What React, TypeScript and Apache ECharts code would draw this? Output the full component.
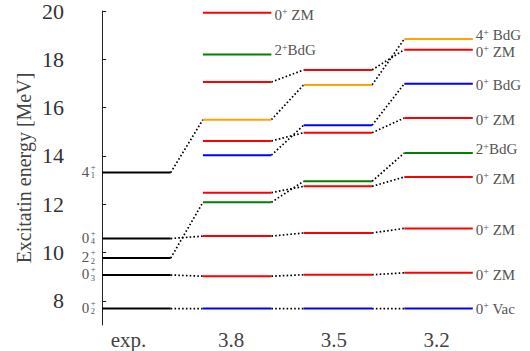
import { useEffect, useRef } from "react";
import * as echarts from "echarts";

const SERIF = "Liberation Serif";

// Columns of the level scheme: experiment and three model parameter values
const columns = ["exp.", "3.8", "3.5", "3.2"];
// Where the column captions sit on the x scale
const columnLabelAt = [0.26, 1.28, 2.3, 3.32];

// Each state followed across the columns, in MeV (null where it is absent)
const stateTracks: (number | null)[][] = [
  [7.68, 7.68, 7.68, 7.68],
  [9.07, 9.02, 9.08, 9.16],
  [10.58, 10.68, 10.81, 11.0],
  [9.77, 12.08, 12.95, 14.12],
  [null, 12.48, 12.74, 13.13],
  [null, 14.03, 15.27, 16.99],
  [null, 14.62, 14.96, 15.57],
  [13.31, 15.5, 16.94, 18.84],
  [null, 17.06, 17.56, 18.4],
  [null, 18.2, null, null],
  [null, 19.93, null, null],
];
// Model character of each track
const stateKinds = ["Vac", "ZM", "ZM", "BdG2", "ZM", "BdG0", "ZM", "BdG4", "ZM", "BdG2", "ZM"];

// Experimental level labels J^pi_n
const expTrack = [0, 1, 2, 3, 7];
const expSpin = ["0", "0", "0", "2", "4"];
const expIndex = ["2", "3", "4", "2", "1"];

const yTicks = [8, 10, 12, 14, 16, 18, 20];

const LEVEL_WIDTH = 0.68;

const kindStyle: Record<string, { color: string; spin: string; name: string; dy: number }> = {
  Vac: { color: "#0000ff", spin: "0", name: "Vac", dy: 0 },
  ZM: { color: "#ff0000", spin: "0", name: "ZM", dy: 2 },
  BdG0: { color: "#0000ff", spin: "0", name: "BdG", dy: 1 },
  BdG2: { color: "#008000", spin: "2", name: "BdG", dy: -4 },
  BdG4: { color: "#ffa500", spin: "4", name: "BdG", dy: -4 },
};

export default function App() {
  const ref = useRef<HTMLDivElement>(null);

  useEffect(() => {
    document.body.style.margin = "0";
    if (!ref.current) return;
    const chart = echarts.init(ref.current, undefined, { renderer: "svg" });

    // Level bars
    const levelData: number[][] = [];
    const levelColor: string[] = [];
    // Dotted links between neighbouring columns
    const linkData: number[][] = [];
    // Labels at the right end of each track
    const tagData: number[][] = [];
    const tagKind: string[] = [];

    stateTracks.forEach((track, t) => {
      let last = -1;
      track.forEach((e, c) => {
        if (e === null) return;
        levelData.push([c, e]);
        levelColor.push(c === 0 ? "#000000" : kindStyle[stateKinds[t]].color);
        last = c;
        const next = track[c + 1];
        if (c + 1 < track.length && next !== null && next !== undefined) {
          linkData.push([c, e, next]);
        }
      });
      if (last > 0) {
        tagData.push([last, track[last] as number]);
        tagKind.push(stateKinds[t]);
      }
    });

    const expData = expTrack.map((t) => [0, stateTracks[t][0] as number]);

    const labelFill = "#555";

    chart.setOption({
      animation: false,
      textStyle: { fontFamily: SERIF },
      grid: { left: 69, right: 25, top: 11, bottom: 26 },
      xAxis: {
        type: "value",
        min: -0.33,
        max: 4,
        axisLine: { show: false },
        axisTick: { show: false },
        splitLine: { show: false },
        axisLabel: {
          customValues: columnLabelAt,
          formatter: (v: number) => columns[Math.round(v - 0.3)] ?? "",
          fontFamily: SERIF,
          fontSize: 21,
          color: "#444",
          margin: 4,
        },
      },
      yAxis: {
        type: "value",
        min: 7,
        max: 20,
        splitLine: { show: false },
        axisLine: { show: true, lineStyle: { color: "#222", width: 1 } },
        axisTick: {
          show: true,
          inside: true,
          length: 4,
          customValues: yTicks,
          lineStyle: { color: "#222" },
        },
        axisLabel: {
          customValues: yTicks,
          fontFamily: SERIF,
          fontSize: 22,
          color: "#333",
          margin: 5,
        },
        name: "Excitatin energy [MeV]",
        nameLocation: "middle",
        nameGap: 35,
        nameMoveOverlap: false,
        nameTextStyle: { fontFamily: SERIF, fontSize: 20, color: "#444" },
      },
      series: [
        {
          type: "custom",
          name: "links",
          clip: false,
          data: linkData,
          encode: { x: 0, y: 1 },
          renderItem: (_params: any, api: any) => {
            const c = api.value(0);
            const p1 = api.coord([c + LEVEL_WIDTH, api.value(1)]);
            const p2 = api.coord([c + 1, api.value(2)]);
            return {
              type: "line",
              shape: { x1: p1[0], y1: p1[1], x2: p2[0], y2: p2[1] },
              style: { stroke: "#000", lineWidth: 1.7, lineDash: [1.6, 2.2] },
            };
          },
        },
        {
          type: "custom",
          name: "levels",
          clip: false,
          data: levelData,
          encode: { x: 0, y: 1 },
          renderItem: (params: any, api: any) => {
            const c = api.value(0);
            const e = api.value(1);
            const p1 = api.coord([c, e]);
            const p2 = api.coord([c + LEVEL_WIDTH, e]);
            return {
              type: "line",
              shape: { x1: p1[0], y1: p1[1], x2: p2[0], y2: p2[1] },
              style: { stroke: levelColor[params.dataIndex], lineWidth: 2 },
            };
          },
        },
        {
          type: "custom",
          name: "tags",
          clip: false,
          data: tagData,
          encode: { x: 0, y: 1 },
          renderItem: (params: any, api: any) => {
            const k = kindStyle[tagKind[params.dataIndex]];
            const p = api.coord([api.value(0) + LEVEL_WIDTH, api.value(1)]);
            const gap = k.spin === "2" ? "" : " ";
            return {
              type: "text",
              x: p[0] + 3,
              y: p[1] + k.dy,
              style: {
                text: `{n|${k.spin}}{s|+}{n|${gap}${k.name}}`,
                align: "left",
                verticalAlign: "middle",
                rich: {
                  n: { fontFamily: SERIF, fontSize: 15, fill: labelFill, lineHeight: 16 },
                  s: {
                    fontFamily: SERIF,
                    fontSize: 10,
                    fill: labelFill,
                    lineHeight: 10,
                    verticalAlign: "top",
                  },
                },
              },
            };
          },
        },
        {
          type: "custom",
          name: "expTags",
          clip: false,
          data: expData,
          encode: { x: 0, y: 1 },
          renderItem: (params: any, api: any) => {
            const i = params.dataIndex;
            const p = api.coord([api.value(0), api.value(1)]);
            const xr = p[0] - 13;
            const base = { fontFamily: SERIF, fill: labelFill };
            return {
              type: "group",
              children: [
                {
                  type: "text",
                  x: xr,
                  y: p[1] - 1,
                  style: { ...base, text: expSpin[i], fontSize: 15, align: "right", verticalAlign: "middle" },
                },
                {
                  // superscript parity over the level index
                  type: "text",
                  x: xr + 1.5,
                  y: p[1] - 1.5,
                  style: {
                    ...base,
                    text: `+\n${expIndex[i]}`,
                    fontSize: 8.5,
                    lineHeight: 8.5,
                    align: "left",
                    verticalAlign: "middle",
                  },
                },
              ],
            };
          },
        },
      ],
    });

    return () => chart.dispose();
  }, []);

  return <div ref={ref} style={{ width: 530, height: 351 }} />;
}
